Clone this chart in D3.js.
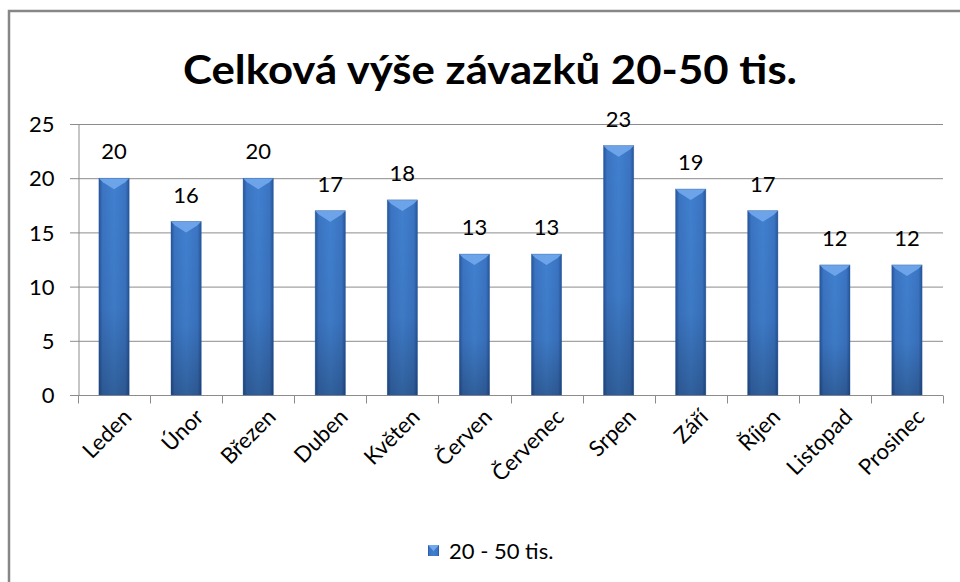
<!DOCTYPE html>
<html><head><meta charset="utf-8">
<script src="https://cdn.jsdelivr.net/npm/d3@7"></script>
<style>body{margin:0;background:#fff;}svg{display:block;}</style>
</head><body>
<script>
const categories = ["Leden","Únor","Březen","Duben","Květen","Červen","Červenec","Srpen","Září","Říjen","Listopad","Prosinec"];
const values = [20,16,20,17,18,13,13,23,19,17,12,12];
const yTicks = [0,5,10,15,20,25];
const seriesName = "20 - 50 tis.";
const title = "Celková výše závazků 20-50 tis.";

const W = 960, H = 582;
const font = "Lato, 'Open Sans', sans-serif";
const svg = d3.select("body").append("svg").attr("width", W).attr("height", H);

const defs = svg.append("defs");
const g1 = defs.append("linearGradient").attr("id","barH").attr("x1","0").attr("x2","1").attr("y1","0").attr("y2","0");
g1.append("stop").attr("offset","0").attr("stop-color","#25549a");
g1.append("stop").attr("offset","0.12").attr("stop-color","#3b74c2");
g1.append("stop").attr("offset","0.5").attr("stop-color","#4080cf");
g1.append("stop").attr("offset","0.88").attr("stop-color","#3b74c2");
g1.append("stop").attr("offset","1").attr("stop-color","#25549a");
const g2 = defs.append("linearGradient").attr("id","barV").attr("x1","0").attr("x2","0").attr("y1","0").attr("y2","1");
g2.append("stop").attr("offset","0").attr("stop-color","#000").attr("stop-opacity","0");
g2.append("stop").attr("offset","0.6").attr("stop-color","#000").attr("stop-opacity","0.05");
g2.append("stop").attr("offset","1").attr("stop-color","#000").attr("stop-opacity","0.25");

// frame
svg.append("rect").attr("x",9).attr("y",11).attr("width",W).attr("height",H)
  .attr("fill","#fff").attr("stroke","#878787").attr("stroke-width",2.5);

svg.append("text").attr("x",490).attr("y",84).attr("text-anchor","middle")
  .attr("font-family",font).attr("font-weight","bold").attr("font-size",41).attr("fill","#000")
  .attr("textLength",614).attr("lengthAdjust","spacingAndGlyphs")
  .text(title);

const x0 = 78, x1 = 943, yTop = 124, yBot = 395;
const x = d3.scaleBand().domain(categories).range([x0,x1]).paddingInner(0.58).paddingOuter(0.29);
const y = d3.scaleLinear().domain([0,25]).range([yBot,yTop]);

// gridlines
svg.append("g").selectAll("line").data(yTicks).join("line")
  .attr("x1",70).attr("x2",x1).attr("y1",d=>y(d)+0.5).attr("y2",d=>y(d)+0.5)
  .attr("stroke","#8c8c8c").attr("stroke-width",1);

// y axis
const yAxis = svg.append("g").attr("transform",`translate(${x0+0.5},0)`)
  .call(d3.axisLeft(y).tickValues(yTicks).tickSize(0).tickPadding(24));
yAxis.select(".domain").attr("stroke","#8c8c8c");
yAxis.selectAll("text").attr("font-family",font).attr("font-size",22).attr("fill","#000").attr("dy","0.35em");

// x axis
const band = x.step();
const xAxis = svg.append("g").attr("transform",`translate(0,${yBot+0.5})`);
xAxis.append("line").attr("x1",x0).attr("x2",x1).attr("stroke","#8c8c8c");
xAxis.selectAll("line.tk").data(d3.range(categories.length+1)).join("line").attr("class","tk")
  .attr("x1",i=>Math.round(x0+i*band)+0.5).attr("x2",i=>Math.round(x0+i*band)+0.5)
  .attr("y1",0).attr("y2",8).attr("stroke","#8c8c8c");
xAxis.selectAll("text").data(categories).join("text")
  .attr("transform",d=>`translate(${x(d)+x.bandwidth()/2+8},12) rotate(-45)`)
  .attr("text-anchor","end").attr("dy","0.7em")
  .attr("font-family",font).attr("font-size",22).attr("fill","#000").text(d=>d);

// bars
const bars = svg.append("g").selectAll("g").data(categories.map((c,i)=>({c,v:values[i]}))).join("g");
bars.append("rect").attr("x",d=>x(d.c)).attr("y",d=>y(d.v)).attr("width",x.bandwidth()).attr("height",d=>yBot-y(d.v))
  .attr("fill","url(#barH)");
bars.append("rect").attr("x",d=>x(d.c)).attr("y",d=>y(d.v)).attr("width",x.bandwidth()).attr("height",d=>yBot-y(d.v))
  .attr("fill","url(#barV)");
bars.append("path").attr("d",d=>{
  const l=x(d.c), r=l+x.bandwidth(), t=y(d.v), bw=x.bandwidth();
  return `M${l},${t}L${r},${t}L${r-4},${t+4}L${l+bw/2},${t+11}L${l+4},${t+4}Z`;
}).attr("fill","#72a8ec").attr("opacity",0.9);
bars.append("rect").attr("x",d=>x(d.c)).attr("y",d=>y(d.v)).attr("width",x.bandwidth()).attr("height",d=>yBot-y(d.v))
  .attr("fill","none").attr("stroke","#2b5d9e").attr("stroke-width",0.6).attr("stroke-opacity",0.6);

// data labels
bars.append("text").attr("x",d=>x(d.c)+x.bandwidth()/2).attr("y",d=>y(d.v)-19)
  .attr("text-anchor","middle").attr("font-family",font).attr("font-size",22).attr("fill","#000").text(d=>d.v);

// legend
const lg = svg.append("g");
lg.append("rect").attr("x",428).attr("y",545).attr("width",11).attr("height",11).attr("fill","url(#barH)");
lg.append("path").attr("d","M428,545L439,545L433.5,551Z").attr("fill","#72a8ec");
lg.append("text").attr("x",449).attr("y",551).attr("dy","0.35em").attr("font-family",font).attr("font-size",22).attr("fill","#000").text(seriesName);
</script>
</body></html>
